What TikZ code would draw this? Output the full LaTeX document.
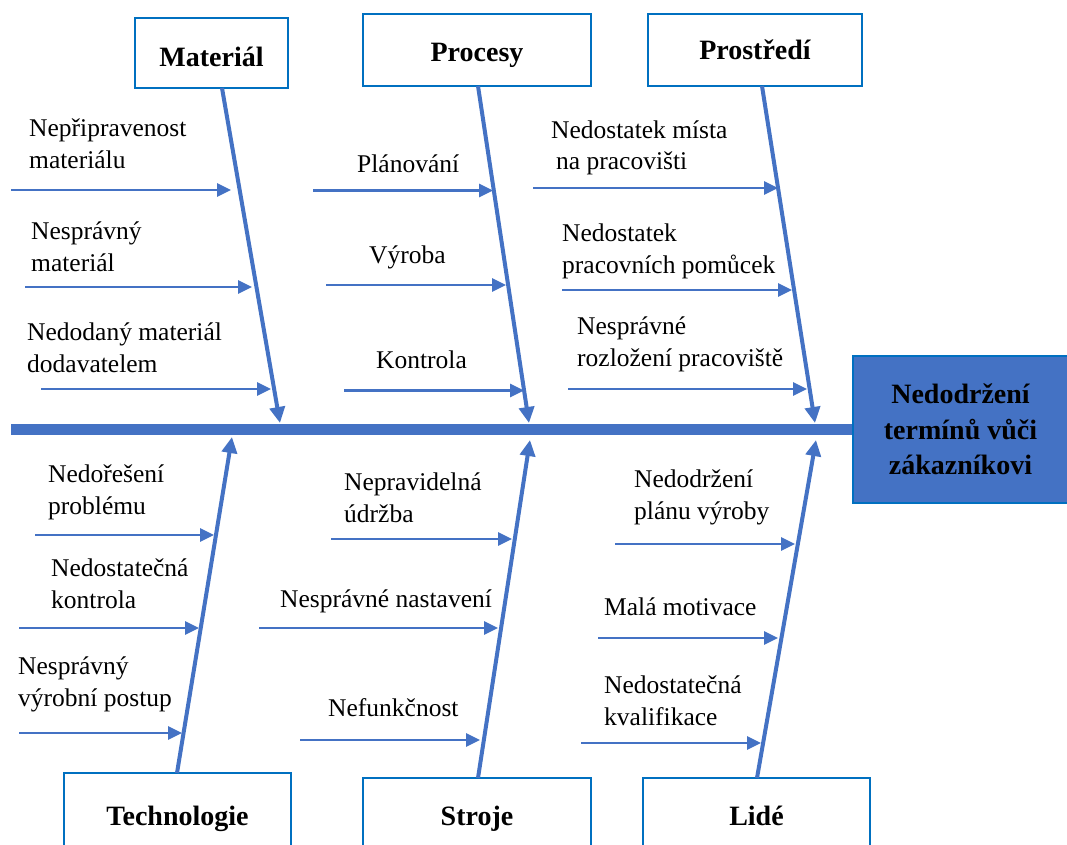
\documentclass[tikz,border=0pt]{standalone}
\usepackage{fontspec}
\setmainfont{Liberation Serif}
\usetikzlibrary{arrows.meta}
\definecolor{arrblue}{RGB}{68,114,196}
\definecolor{boxblue}{RGB}{0,112,192}
\tikzset{
  catbox/.style={draw=boxblue, line width=2pt, fill=white, inner sep=0pt,
    font=\bfseries\fontsize{28pt}{34pt}\selectfont},
  cause/.style={font=\fontsize{25.5pt}{32pt}\selectfont, align=left, inner sep=0pt, anchor=base west},
  bone/.style={draw=arrblue, line width=4pt, -{Triangle[length=16pt,width=15pt]}},
  twig/.style={draw=arrblue, line width=2.7pt, -{Triangle[length=14pt,width=13pt]}},
  effect/.style={draw=boxblue, line width=2pt, fill=arrblue, inner sep=0pt, align=center,
    font=\bfseries\fontsize{28pt}{35.5pt}\selectfont},
}
\begin{document}
\begin{tikzpicture}[x=1pt,y=-1pt]
\clip (0,0) rectangle (1067,845);
\fill[white] (0,0) rectangle (1067,845);

% effect
\node[effect, minimum width=215pt, minimum height=147pt] (eff) at (960.5,429.5) {Nedodržení\\termínů vůči\\zákazníkovi};
% spine
\coordinate (sp0) at (11,429.5);
\draw[arrblue, line width=11pt] (sp0) -- (eff.west);

% category boxes
\node[catbox, minimum width=153pt, minimum height=70pt, text height=28pt, text depth=0pt] (mat) at (211.5,53) {Materiál};
\node[catbox, minimum width=228pt, minimum height=72pt, text height=24pt, text depth=0pt] (proc) at (477,50) {Procesy};
\node[catbox, minimum width=214pt, minimum height=72pt, text height=20pt, text depth=0pt] (prost) at (755,50) {Prostředí};
\node[catbox, minimum width=227pt, minimum height=97pt, text height=7pt, text depth=0pt] (tech) at (177.5,821.5) {Technologie};
\node[catbox, minimum width=228pt, minimum height=92pt, text height=2pt, text depth=0pt] (stroj) at (477,824) {Stroje};
\node[catbox, minimum width=227pt, minimum height=92pt, text height=2pt, text depth=0pt] (lide) at (756.5,824) {Lidé};

% bones
\coordinate (matS) at (222,88);   \coordinate (matE) at (280,423);
\coordinate (procS) at (478,86);  \coordinate (procE) at (529,423);
\coordinate (prostS) at (762,86); \coordinate (prostE) at (815,423);
\coordinate (techS) at (177,773); \coordinate (techE) at (232,437);
\coordinate (strojS) at (478,778); \coordinate (strojE) at (530,440);
\coordinate (lideS) at (757,778); \coordinate (lideE) at (816,440);
\draw[bone] (matS) -- (matE);
\draw[bone] (procS) -- (procE);
\draw[bone] (prostS) -- (prostE);
\draw[bone] (techS) -- (techE);
\draw[bone] (strojS) -- (strojE);
\draw[bone] (lideS) -- (lideE);

% twigs: Materiál
\coordinate (m1s) at (11,190);  \coordinate (m1e) at (231,190);
\coordinate (m2s) at (25,287);  \coordinate (m2e) at (252,287);
\coordinate (m3s) at (41,389);  \coordinate (m3e) at (271,389);
% Procesy
\coordinate (p1s) at (313,190.5); \coordinate (p1e) at (493,190.5);
\coordinate (p2s) at (326,285);   \coordinate (p2e) at (506,285);
\coordinate (p3s) at (344,390.5); \coordinate (p3e) at (524,390.5);
% Prostředí
\coordinate (r1s) at (533,188); \coordinate (r1e) at (778,188);
\coordinate (r2s) at (562,290); \coordinate (r2e) at (792,290);
\coordinate (r3s) at (568,389); \coordinate (r3e) at (807,389);
% Technologie
\coordinate (t1s) at (35,535);  \coordinate (t1e) at (214,535);
\coordinate (t2s) at (19,628);  \coordinate (t2e) at (199,628);
\coordinate (t3s) at (19,733);  \coordinate (t3e) at (182,733);
% Stroje
\coordinate (s1s) at (331,539); \coordinate (s1e) at (512,539);
\coordinate (s2s) at (259,628); \coordinate (s2e) at (498,628);
\coordinate (s3s) at (300,740); \coordinate (s3e) at (480,740);
% Lidé
\coordinate (l1s) at (615,544); \coordinate (l1e) at (795,544);
\coordinate (l2s) at (598,638); \coordinate (l2e) at (778,638);
\coordinate (l3s) at (581,743); \coordinate (l3e) at (761,743);

\foreach \a in {m1,m2,m3,p1,p2,p3,r1,r2,r3,t1,t2,t3,s1,s2,s3,l1,l2,l3}
  \draw[twig] (\a s) -- (\a e);

% cause labels (anchor = baseline of last line)
\node[cause] (cm1) at (29,168) {Nepřipravenost\\materiálu};
\node[cause] (cm2) at (31,271) {Nesprávný\\materiál};
\node[cause] (cm3) at (27,372) {Nedodaný materiál\\dodavatelem};
\node[cause] (cp1) at (357,172) {Plánování};
\node[cause] (cp2) at (369,263) {Výroba};
\node[cause] (cp3) at (376,368) {Kontrola};
\node[cause] (cr1) at (551,170) {Nedostatek místa\\\hspace{5pt}na pracovišti};
\node[cause] (cr2) at (562,273) {Nedostatek\\pracovních pomůcek};
\node[cause] (cr3) at (577,366) {Nesprávné\\rozložení pracoviště};
\node[cause] (ct1) at (48,514) {Nedořešení\\problému};
\node[cause] (ct2) at (51,608) {Nedostatečná\\kontrola};
\node[cause] (ct3) at (18,706) {Nesprávný\\výrobní postup};
\node[cause] (cs1) at (344,522) {Nepravidelná\\údržba};
\node[cause] (cs2) at (280,607) {Nesprávné nastavení};
\node[cause] (cs3) at (328,716) {Nefunkčnost};
\node[cause] (cl1) at (634,519) {Nedodržení\\plánu výroby};
\node[cause] (cl2) at (604,615) {Malá motivace};
\node[cause] (cl3) at (604,725) {Nedostatečná\\kvalifikace};
\end{tikzpicture}
\end{document}
